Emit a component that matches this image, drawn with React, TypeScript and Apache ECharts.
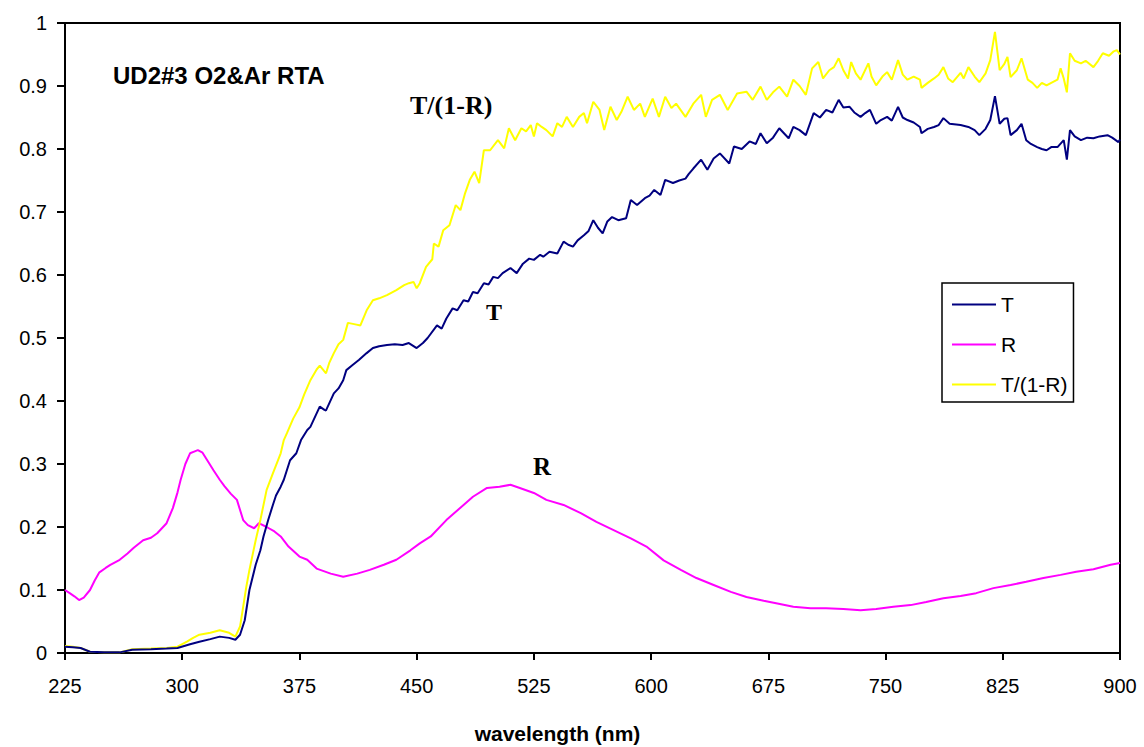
import React, { useEffect, useRef } from 'react';
import * as echarts from 'echarts';

const seriesNames = ['T', 'R', 'T/(1-R)'];

const tWavelength = [225, 230, 235, 241, 250, 260, 268, 280, 290, 297, 305, 311, 318, 324, 330, 334, 337, 340, 343, 347, 350, 352, 355, 358, 360, 363, 365, 369, 373, 376, 380, 382, 388, 391, 392, 397, 400, 403, 405, 409, 413, 418, 422, 426, 431, 436, 441, 445, 450, 454, 457, 463, 466, 469, 473, 476, 480, 483, 486, 489, 493, 496, 499, 502, 505, 510, 514, 518, 522, 525, 529, 531, 535, 540, 544, 547, 550, 553, 557, 560, 563, 566, 569, 572, 575, 579, 584, 587, 591, 596, 599, 602, 606, 609, 614, 618, 622, 624, 627, 632, 636, 640, 644, 650, 653, 658, 663, 667, 670, 674, 678, 682, 688, 691, 695, 699, 704, 708, 712, 716, 720, 723, 727, 730, 734, 737, 740, 744, 747, 751, 754, 758, 761, 764, 768, 772, 773, 777, 781, 784, 787, 791, 798, 803, 807, 810, 814, 817, 820, 823, 826, 828, 830, 834, 837, 840, 843, 847, 850, 853, 856, 860, 864, 866, 868, 871, 875, 879, 883, 887, 892, 895, 899, 900];
const tValues = [0.010, 0.009, 0.008, 0.002, 0.001, 0.001, 0.005, 0.006, 0.007, 0.008, 0.014, 0.018, 0.022, 0.026, 0.024, 0.021, 0.029, 0.052, 0.100, 0.140, 0.163, 0.185, 0.211, 0.235, 0.250, 0.264, 0.275, 0.306, 0.317, 0.338, 0.354, 0.359, 0.391, 0.386, 0.385, 0.412, 0.420, 0.433, 0.449, 0.457, 0.465, 0.476, 0.484, 0.487, 0.489, 0.490, 0.489, 0.492, 0.484, 0.492, 0.500, 0.520, 0.515, 0.531, 0.547, 0.544, 0.560, 0.558, 0.573, 0.571, 0.587, 0.585, 0.597, 0.595, 0.603, 0.611, 0.603, 0.618, 0.626, 0.624, 0.632, 0.629, 0.637, 0.634, 0.653, 0.648, 0.645, 0.655, 0.663, 0.670, 0.687, 0.675, 0.666, 0.685, 0.692, 0.687, 0.690, 0.719, 0.711, 0.722, 0.726, 0.735, 0.727, 0.751, 0.746, 0.750, 0.753, 0.760, 0.769, 0.783, 0.767, 0.785, 0.793, 0.777, 0.804, 0.800, 0.812, 0.808, 0.825, 0.809, 0.818, 0.833, 0.817, 0.835, 0.830, 0.822, 0.857, 0.850, 0.862, 0.858, 0.878, 0.866, 0.867, 0.858, 0.851, 0.857, 0.862, 0.840, 0.846, 0.851, 0.845, 0.867, 0.850, 0.846, 0.842, 0.835, 0.825, 0.832, 0.835, 0.838, 0.849, 0.840, 0.838, 0.835, 0.830, 0.822, 0.832, 0.846, 0.884, 0.840, 0.848, 0.849, 0.822, 0.830, 0.840, 0.814, 0.808, 0.803, 0.800, 0.798, 0.803, 0.803, 0.814, 0.783, 0.830, 0.820, 0.814, 0.818, 0.817, 0.820, 0.822, 0.818, 0.811, 0.815];

const rWavelength = [225, 228, 231, 234, 237, 241, 244, 247, 251, 254, 260, 265, 269, 275, 280, 284, 290, 294, 297, 299, 302, 305, 308, 310, 313, 316, 320, 324, 327, 331, 335, 339, 342, 346, 349, 354, 359, 363, 368, 375, 380, 386, 395, 403, 412, 420, 429, 437, 446, 452, 459, 469, 480, 486, 495, 503, 510, 516, 525, 533, 544, 555, 565, 576, 587, 597, 608, 619, 629, 640, 651, 661, 672, 680, 691, 702, 712, 723, 734, 744, 755, 766, 776, 787, 798, 808, 819, 830, 840, 851, 862, 872, 883, 894, 900];
const rValues = [0.100, 0.095, 0.090, 0.084, 0.088, 0.100, 0.115, 0.128, 0.135, 0.140, 0.148, 0.158, 0.167, 0.179, 0.183, 0.190, 0.206, 0.230, 0.255, 0.275, 0.300, 0.317, 0.320, 0.322, 0.318, 0.306, 0.290, 0.275, 0.265, 0.253, 0.243, 0.211, 0.203, 0.198, 0.206, 0.200, 0.193, 0.185, 0.169, 0.153, 0.148, 0.134, 0.126, 0.121, 0.126, 0.132, 0.140, 0.148, 0.163, 0.174, 0.185, 0.211, 0.235, 0.248, 0.262, 0.264, 0.267, 0.262, 0.254, 0.243, 0.235, 0.222, 0.208, 0.195, 0.182, 0.169, 0.147, 0.132, 0.119, 0.108, 0.097, 0.089, 0.083, 0.079, 0.0735, 0.071, 0.071, 0.070, 0.068, 0.0698, 0.0735, 0.076, 0.081, 0.087, 0.0905, 0.095, 0.103, 0.108, 0.113, 0.119, 0.124, 0.129, 0.133, 0.140, 0.143];

const yWavelength = [225, 230, 235, 241, 250, 260, 268, 280, 290, 297, 303, 307, 311, 318, 324, 330, 334, 337, 341, 343, 347, 350, 354, 358, 363, 365, 367, 371, 375, 378, 382, 386, 388, 392, 394, 397, 400, 403, 406, 410, 414, 418, 422, 426, 431, 434, 437, 442, 445, 448, 450, 452, 456, 460, 461, 464, 467, 471, 475, 478, 481, 484, 487, 490, 493, 497, 502, 506, 509, 513, 517, 520, 523, 525, 527, 530, 533, 537, 540, 543, 546, 550, 554, 557, 559, 563, 567, 570, 574, 578, 581, 585, 589, 593, 596, 601, 605, 609, 613, 616, 622, 627, 632, 635, 639, 644, 649, 655, 661, 665, 670, 674, 678, 682, 687, 691, 695, 699, 703, 707, 710, 714, 717, 720, 723, 726, 728, 731, 734, 739, 741, 744, 748, 751, 754, 758, 761, 764, 768, 772, 773, 777, 781, 784, 787, 790, 793, 798, 800, 803, 807, 810, 814, 817, 820, 823, 826, 828, 830, 834, 837, 841, 844, 847, 850, 853, 856, 860, 862, 864, 866, 868, 871, 875, 878, 883, 886, 889, 893, 896, 898, 900];
const yValues = [0.011, 0.010, 0.008, 0.002, 0.001, 0.001, 0.006, 0.007, 0.008, 0.010, 0.018, 0.024, 0.029, 0.032, 0.036, 0.032, 0.026, 0.042, 0.105, 0.132, 0.179, 0.211, 0.259, 0.285, 0.317, 0.338, 0.349, 0.372, 0.390, 0.410, 0.433, 0.450, 0.456, 0.444, 0.460, 0.476, 0.490, 0.497, 0.524, 0.522, 0.520, 0.544, 0.560, 0.563, 0.568, 0.572, 0.576, 0.584, 0.587, 0.589, 0.579, 0.587, 0.613, 0.625, 0.650, 0.645, 0.671, 0.679, 0.711, 0.703, 0.730, 0.751, 0.764, 0.746, 0.798, 0.798, 0.814, 0.801, 0.833, 0.814, 0.833, 0.828, 0.838, 0.820, 0.841, 0.835, 0.830, 0.820, 0.841, 0.835, 0.851, 0.835, 0.851, 0.857, 0.841, 0.875, 0.862, 0.830, 0.867, 0.846, 0.859, 0.883, 0.862, 0.872, 0.851, 0.880, 0.851, 0.883, 0.865, 0.872, 0.851, 0.872, 0.886, 0.851, 0.878, 0.886, 0.862, 0.888, 0.891, 0.878, 0.899, 0.878, 0.890, 0.899, 0.883, 0.910, 0.900, 0.886, 0.928, 0.938, 0.912, 0.925, 0.930, 0.944, 0.925, 0.912, 0.938, 0.920, 0.910, 0.936, 0.915, 0.901, 0.915, 0.922, 0.910, 0.941, 0.918, 0.910, 0.915, 0.910, 0.897, 0.905, 0.912, 0.918, 0.930, 0.912, 0.906, 0.921, 0.912, 0.930, 0.915, 0.906, 0.920, 0.941, 0.986, 0.925, 0.935, 0.946, 0.914, 0.925, 0.944, 0.910, 0.905, 0.897, 0.905, 0.901, 0.905, 0.910, 0.928, 0.912, 0.890, 0.952, 0.940, 0.936, 0.940, 0.930, 0.940, 0.952, 0.948, 0.955, 0.957, 0.950];

const zip = (xs: number[], ys: number[]) => xs.map((x, i) => [x, ys[i]]);

export default function App() {
  const ref = useRef<HTMLDivElement>(null);
  useEffect(() => {
    document.body.style.margin = '0';
    const chart = echarts.init(ref.current!, null, { renderer: 'svg' });
    const font = '"Liberation Sans", Arial, sans-serif';
    const serif = '"Liberation Serif", "Times New Roman", serif';
    chart.setOption({
      animation: false,
      backgroundColor: '#fff',
      textStyle: { fontFamily: font, color: '#000' },
      grid: {
        left: 65, right: 24, top: 23, bottom: 94,
        show: true, borderColor: '#000', borderWidth: 2,
        containLabel: false, outerBoundsMode: 'none',
      },
      legend: {
        orient: 'vertical',
        left: 942,
        top: 283,
        padding: [11, 6, 7, 10],
        itemGap: 19,
        itemWidth: 44,
        itemHeight: 2,
        itemTextGap: 5,
        icon: 'rect',
        borderColor: '#000',
        borderWidth: 1.5,
        backgroundColor: '#fff',
        textStyle: { fontSize: 21, color: '#000', fontFamily: font },
        data: seriesNames,
      },
      xAxis: {
        type: 'value',
        min: 225,
        max: 900,
        interval: 75,
        name: 'wavelength (nm)',
        nameLocation: 'middle',
        nameGap: 70,
        nameTextStyle: { fontSize: 21, fontWeight: 'bold', color: '#000', fontFamily: font, padding: [0, 70, 0, 0] },
        axisLine: { onZero: false, lineStyle: { color: '#000', width: 2 } },
        axisTick: { show: true, inside: false, length: 7, lineStyle: { color: '#000', width: 2 } },
        axisLabel: { fontSize: 20, color: '#000', margin: 23, fontFamily: font, showMinLabel: true, showMaxLabel: true },
        splitLine: { show: false },
      },
      yAxis: {
        type: 'value',
        min: 0,
        max: 1,
        interval: 0.1,
        axisLine: { show: true, lineStyle: { color: '#000', width: 2 } },
        axisTick: { show: true, inside: false, length: 8, lineStyle: { color: '#000', width: 2 } },
        axisLabel: { fontSize: 20, color: '#000', margin: 18, fontFamily: font },
        splitLine: { show: false },
      },
      series: [
        {
          name: 'T', type: 'line', data: zip(tWavelength, tValues), symbol: 'none',
          itemStyle: { color: '#000080' }, lineStyle: { color: '#000080', width: 2 }, z: 3,
        },
        {
          name: 'R', type: 'line', data: zip(rWavelength, rValues), symbol: 'none',
          itemStyle: { color: '#FF00FF' }, lineStyle: { color: '#FF00FF', width: 2 }, z: 2,
        },
        {
          name: 'T/(1-R)', type: 'line', data: zip(yWavelength, yValues), symbol: 'none',
          itemStyle: { color: '#FFFF00' }, lineStyle: { color: '#FFFF00', width: 2 }, z: 2,
        },
      ],
      graphic: [
        { type: 'text', left: 113, top: 63, style: { text: 'UD2#3 O2&Ar RTA', font: `bold 24px ${font}`, fill: '#000' } },
        { type: 'text', left: 410, top: 92, style: { text: 'T/(1-R)', font: `bold 26px ${serif}`, fill: '#000' } },
        { type: 'text', left: 486, top: 300, style: { text: 'T', font: `bold 24px ${serif}`, fill: '#000' } },
        { type: 'text', left: 533, top: 454, style: { text: 'R', font: `bold 25px ${serif}`, fill: '#000' } },
      ],
    });
    return () => chart.dispose();
  }, []);
  return <div ref={ref} style={{ width: 1144, height: 747 }} />;
}
